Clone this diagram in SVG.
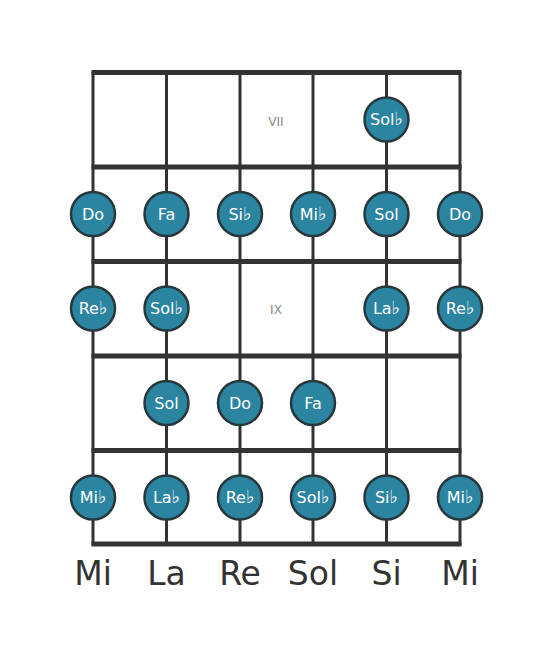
<svg xmlns="http://www.w3.org/2000/svg" width="553" height="656" viewBox="0 0 553 656">
<style>
.str{stroke:#333;stroke-width:3}
.fret{stroke:#333;stroke-width:5}
.dot{fill:#2b84a0;stroke:#27383d;stroke-width:2.5}
.nl{font-family:"DejaVu Sans",sans-serif;font-size:16px;fill:#fff;text-anchor:middle}
.fl{font-size:18px}
.pos{font-family:"DejaVu Sans",sans-serif;font-size:12px;fill:#888;text-anchor:middle}
.sn{font-family:"DejaVu Sans",sans-serif;font-size:33px;fill:#333;text-anchor:middle}
</style>
<rect width="553" height="656" fill="#fff"/>
<g id="connectors">
<line class="str" x1="93" y1="72" x2="93" y2="545"/>
<line class="str" x1="166.5" y1="72" x2="166.5" y2="545"/>
<line class="str" x1="240" y1="72" x2="240" y2="545"/>
<line class="str" x1="313" y1="72" x2="313" y2="545"/>
<line class="str" x1="386.5" y1="72" x2="386.5" y2="545"/>
<line class="str" x1="460" y1="72" x2="460" y2="545"/>
<line class="fret" x1="91.5" y1="72.5" x2="461.5" y2="72.5"/>
<line class="fret" x1="91.5" y1="167" x2="461.5" y2="167"/>
<line class="fret" x1="91.5" y1="261.5" x2="461.5" y2="261.5"/>
<line class="fret" x1="91.5" y1="356" x2="461.5" y2="356"/>
<line class="fret" x1="91.5" y1="450.5" x2="461.5" y2="450.5"/>
<line class="fret" x1="91.5" y1="544" x2="461.5" y2="544"/>
</g>
<g id="labels">
<text class="pos" x="276" y="125.5">VII</text>
<text class="pos" x="276" y="314">IX</text>
</g>
<g id="n-f1-s5"><circle class="dot" cx="386.5" cy="119.5" r="22"/><text class="nl" x="386.5" y="125">Sol<tspan class="fl">♭</tspan></text></g>
<g id="n-f2-s1"><circle class="dot" cx="93" cy="214" r="22"/><text class="nl" x="93" y="219.5">Do</text></g>
<g id="n-f2-s2"><circle class="dot" cx="166.5" cy="214" r="22"/><text class="nl" x="166.5" y="219.5">Fa</text></g>
<g id="n-f2-s3"><circle class="dot" cx="240" cy="214" r="22"/><text class="nl" x="240" y="219.5">Si<tspan class="fl">♭</tspan></text></g>
<g id="n-f2-s4"><circle class="dot" cx="313" cy="214" r="22"/><text class="nl" x="313" y="219.5">Mi<tspan class="fl">♭</tspan></text></g>
<g id="n-f2-s5"><circle class="dot" cx="386.5" cy="214" r="22"/><text class="nl" x="386.5" y="219.5">Sol</text></g>
<g id="n-f2-s6"><circle class="dot" cx="460" cy="214" r="22"/><text class="nl" x="460" y="219.5">Do</text></g>
<g id="n-f3-s1"><circle class="dot" cx="93" cy="308.5" r="22"/><text class="nl" x="93" y="314">Re<tspan class="fl">♭</tspan></text></g>
<g id="n-f3-s2"><circle class="dot" cx="166.5" cy="308.5" r="22"/><text class="nl" x="166.5" y="314">Sol<tspan class="fl">♭</tspan></text></g>
<g id="n-f3-s5"><circle class="dot" cx="386.5" cy="308.5" r="22"/><text class="nl" x="386.5" y="314">La<tspan class="fl">♭</tspan></text></g>
<g id="n-f3-s6"><circle class="dot" cx="460" cy="308.5" r="22"/><text class="nl" x="460" y="314">Re<tspan class="fl">♭</tspan></text></g>
<g id="n-f4-s2"><circle class="dot" cx="166.5" cy="403" r="22"/><text class="nl" x="166.5" y="408.5">Sol</text></g>
<g id="n-f4-s3"><circle class="dot" cx="240" cy="403" r="22"/><text class="nl" x="240" y="408.5">Do</text></g>
<g id="n-f4-s4"><circle class="dot" cx="313" cy="403" r="22"/><text class="nl" x="313" y="408.5">Fa</text></g>
<g id="n-f5-s1"><circle class="dot" cx="93" cy="497.5" r="22"/><text class="nl" x="93" y="503">Mi<tspan class="fl">♭</tspan></text></g>
<g id="n-f5-s2"><circle class="dot" cx="166.5" cy="497.5" r="22"/><text class="nl" x="166.5" y="503">La<tspan class="fl">♭</tspan></text></g>
<g id="n-f5-s3"><circle class="dot" cx="240" cy="497.5" r="22"/><text class="nl" x="240" y="503">Re<tspan class="fl">♭</tspan></text></g>
<g id="n-f5-s4"><circle class="dot" cx="313" cy="497.5" r="22"/><text class="nl" x="313" y="503">Sol<tspan class="fl">♭</tspan></text></g>
<g id="n-f5-s5"><circle class="dot" cx="386.5" cy="497.5" r="22"/><text class="nl" x="386.5" y="503">Si<tspan class="fl">♭</tspan></text></g>
<g id="n-f5-s6"><circle class="dot" cx="460" cy="497.5" r="22"/><text class="nl" x="460" y="503">Mi<tspan class="fl">♭</tspan></text></g>
<g id="string-names">
<text class="sn" x="93" y="585">Mi</text>
<text class="sn" x="166.5" y="585">La</text>
<text class="sn" x="240" y="585">Re</text>
<text class="sn" x="313" y="585">Sol</text>
<text class="sn" x="386.5" y="585">Si</text>
<text class="sn" x="460" y="585">Mi</text>
</g>
</svg>
